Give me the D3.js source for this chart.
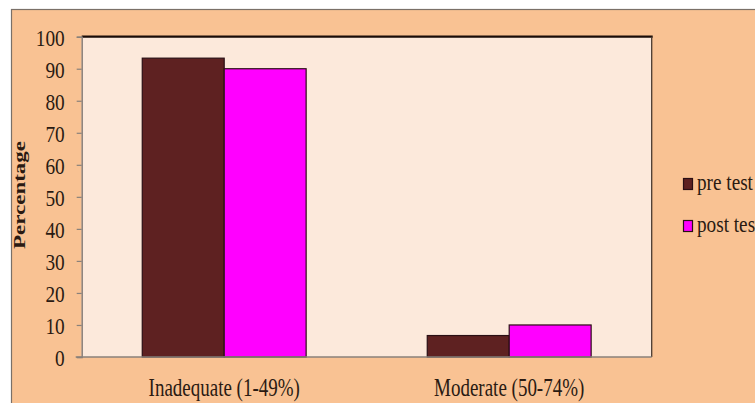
<!DOCTYPE html>
<html>
<head>
<meta charset="utf-8">
<script src="https://cdn.jsdelivr.net/npm/d3@7"></script>
<style>
  html, body { margin: 0; padding: 0; background: #ffffff; }
  svg { display: block; }
  text { font-family: "Liberation Serif", "Times New Roman", serif; fill: #2a1a12; }
</style>
</head>
<body>
<svg id="chart" width="755" height="403"></svg>
<script>
// Knowledge level categories and the two test rounds (percentages)
const categories = ["Inadequate (1-49%)", "Moderate (50-74%)"];
const seriesNames = ["pre test", "post test"];
const preTest = [93.3, 6.7];
const postTest = [90, 10];
const yTicks = [0, 10, 20, 30, 40, 50, 60, 70, 80, 90, 100];

const seriesValues = [preTest, postTest];
const colors = ["#5e2121", "#ff00ff"];

const svg = d3.select("#chart");

// chart area background with its frame
svg.append("rect")
  .attr("x", 11.5).attr("y", 9.5)
  .attr("width", 800).attr("height", 500)
  .attr("fill", "#f9c293")
  .attr("stroke", "#7a7068").attr("stroke-width", 1.2);

const plot = { left: 81.7, right: 651.7, top: 36.7, bottom: 357 };

const y = d3.scaleLinear().domain([0, 100]).range([plot.bottom, plot.top]);
const x0 = d3.scaleBand().domain(categories)
  .range([plot.left, plot.right])
  .paddingInner(0.425).paddingOuter(0.2125);
const x1 = d3.scaleBand().domain(seriesNames).range([0, x0.bandwidth()]);

// plot area
svg.append("rect")
  .attr("x", plot.left).attr("y", plot.top)
  .attr("width", plot.right - plot.left).attr("height", plot.bottom - plot.top)
  .attr("fill", "#fce9db");

// bars
const groups = svg.append("g").selectAll("g")
  .data(categories)
  .join("g")
  .attr("transform", d => `translate(${x0(d)},0)`);

groups.selectAll("rect")
  .data((d, i) => seriesNames.map((s, j) => ({ s, j, v: seriesValues[j][i] })))
  .join("rect")
  .attr("x", d => x1(d.s))
  .attr("y", d => y(d.v))
  .attr("width", x1.bandwidth())
  .attr("height", d => y(0) - y(d.v))
  .attr("fill", d => colors[d.j])
  .attr("stroke", "#2a0f14").attr("stroke-width", 1.2);

// top and right frame lines of the plot area
svg.append("line")
  .attr("x1", plot.left).attr("x2", plot.right + 1)
  .attr("y1", plot.top).attr("y2", plot.top)
  .attr("stroke", "#1a0c08").attr("stroke-width", 2.2);
svg.append("line")
  .attr("x1", plot.right).attr("x2", plot.right)
  .attr("y1", plot.top).attr("y2", plot.bottom)
  .attr("stroke", "#4a3a30").attr("stroke-width", 1.3);

// y axis
const yAxis = svg.append("g")
  .attr("transform", `translate(${plot.left},0)`)
  .call(d3.axisLeft(y).tickValues(yTicks).tickSize(5).tickPadding(0).tickFormat(d3.format("d")));
yAxis.select(".domain").attr("stroke", "#8a817a").attr("stroke-width", 1.5);
yAxis.selectAll(".tick line").attr("stroke", "#8a817a").attr("stroke-width", 1.2);
yAxis.selectAll(".tick text")
  .attr("x", 0).attr("dy", null)
  .attr("dominant-baseline", "central")
  .attr("font-size", 23)
  .attr("text-anchor", "end")
  .attr("transform", "translate(-17,1) scale(0.84,1)")
  .style("font-family", "'Liberation Serif', serif")
  .attr("fill", "#2a1a12");

// x axis line
svg.append("line")
  .attr("x1", plot.left - 6).attr("x2", plot.right)
  .attr("y1", plot.bottom).attr("y2", plot.bottom)
  .attr("stroke", "#8a817a").attr("stroke-width", 1.5);

// category labels
svg.append("g").selectAll("text")
  .data(categories)
  .join("text")
  .attr("transform", d => `translate(${x0(d) + x0.bandwidth() / 2},396) scale(0.76,1)`)
  .attr("text-anchor", "middle")
  .attr("font-size", 25)
  .text(d => d);

// y axis title
svg.append("text")
  .attr("transform", "translate(25,195) rotate(-90) scale(1,0.72)")
  .attr("text-anchor", "middle")
  .attr("font-size", 23)
  .attr("font-weight", "bold")
  .text("Percentage");

// legend
const legend = svg.append("g").selectAll("g")
  .data(seriesNames)
  .join("g")
  .attr("transform", (d, i) => `translate(683,${178 + i * 42})`);
legend.append("rect")
  .attr("x", 0.5).attr("y", 0.5)
  .attr("width", 9).attr("height", 11)
  .attr("fill", (d, i) => colors[i])
  .attr("stroke", "#2a0f14").attr("stroke-width", 1.2);
legend.append("text")
  .attr("transform", "translate(14,12) scale(0.8,1)")
  .attr("font-size", 24)
  .text(d => d);
</script>
</body>
</html>
